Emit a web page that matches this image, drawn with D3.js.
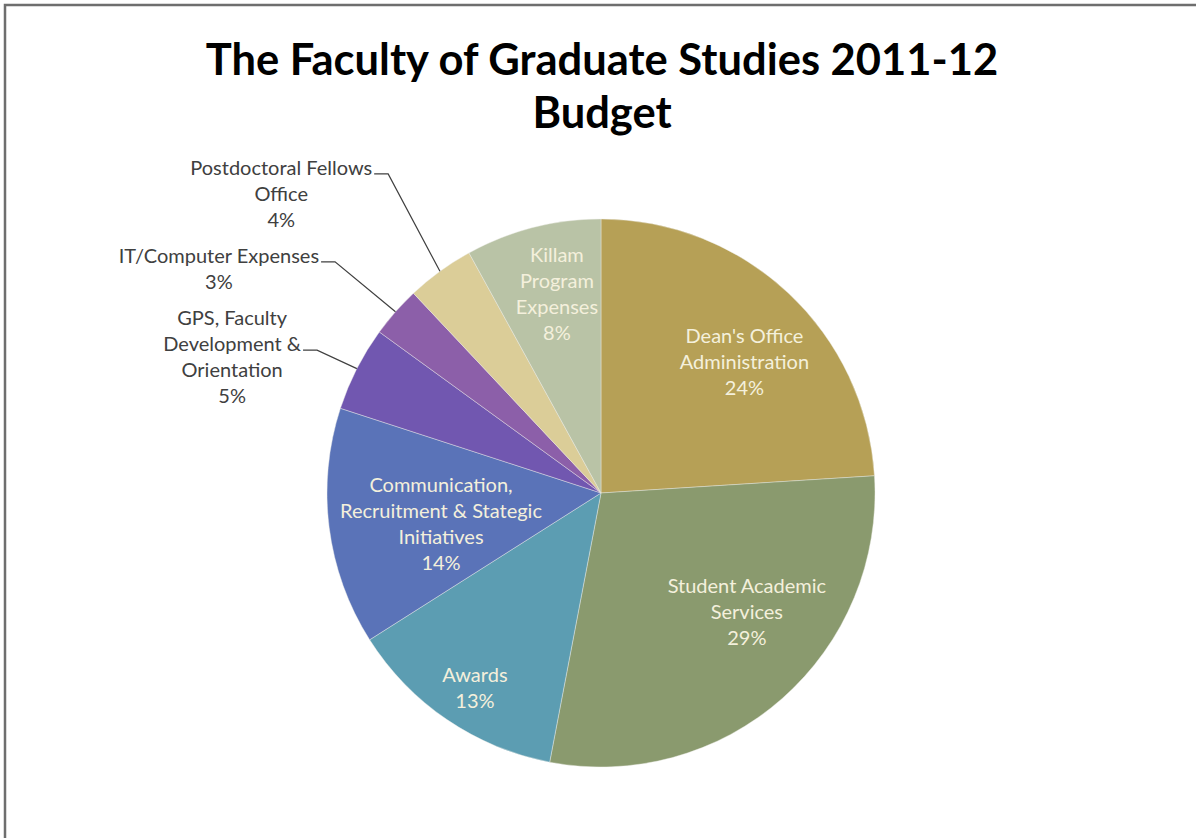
<!DOCTYPE html>
<html>
<head>
<meta charset="utf-8">
<script src="https://cdn.jsdelivr.net/npm/d3@7/dist/d3.min.js"></script>
<style>
  html, body { margin: 0; padding: 0; background: #ffffff; }
  svg { display: block; }
</style>
</head>
<body>
<svg id="chart" width="1196" height="838"></svg>
<script>
// Budget categories, in clockwise order from 12 o'clock
const categories = [
  "Dean's Office Administration",
  "Student Academic Services",
  "Awards",
  "Communication, Recruitment & Stategic Initiatives",
  "GPS, Faculty Development & Orientation",
  "IT/Computer Expenses",
  "Postdoctoral Fellows Office",
  "Killam Program Expenses"
];

// Share of the budget, percent
const shares = [24, 29, 13, 14, 5, 3, 4, 8];

// How each category name is broken over lines in its label
const labelLines = [
  ["Dean's Office", "Administration"],
  ["Student Academic", "Services"],
  ["Awards"],
  ["Communication,", "Recruitment & Stategic", "Initiatives"],
  ["GPS, Faculty", "Development &", "Orientation"],
  ["IT/Computer Expenses"],
  ["Postdoctoral Fellows", "Office"],
  ["Killam", "Program", "Expenses"]
];

const sliceColors = [
  "#b6a056", "#8a9a6e", "#5c9db2", "#5a73b8",
  "#7157b0", "#8c5fa9", "#dbcd98", "#b9c3a6"
];

// Label placement, relative to each slice's mid-angle:
// r  = distance from the centre as a fraction of the radius,
// da = angular nudge in degrees.
// Outside labels hang off a leader line whose elbow sits at (r, da).
const labelPlacement = [
  { inside: true,  r: 0.71,  da: 4.3 },
  { inside: true,  r: 0.687, da: -9.4 },
  { inside: true,  r: 0.847, da: -1.3 },
  { inside: true,  r: 0.595, da: -3.9 },
  { inside: false, r: 1.16,  da: -0.3 },
  { inside: false, r: 1.286, da: -0.4 },
  { inside: false, r: 1.40,  da: 2.3 },
  { inside: true,  r: 0.744, da: 1.9 }
];

const W = 1196, H = 838;
const cx = 601, cy = 493, R = 274;
const bodyFont = "Lato, 'Open Sans', sans-serif";

const svg = d3.select("#chart");

// Frame: top and left rules
svg.append("path")
  .attr("d", `M5,${H} L5,5 L${W},5`)
  .attr("fill", "none")
  .attr("stroke", "#6e6e6e")
  .attr("stroke-width", 2.5);

// Title
const title = svg.append("text")
  .attr("text-anchor", "middle")
  .attr("font-family", "Lato, 'Open Sans', sans-serif")
  .attr("font-weight", "bold")
  .attr("font-size", 43.5)
  .attr("fill", "#000");
title.append("tspan").attr("x", 602).attr("y", 75).text("The Faculty of Graduate Studies 2011-12");
title.append("tspan").attr("x", 602).attr("y", 128).text("Budget");

const data = categories.map((c, i) => ({
  name: c, value: shares[i], lines: labelLines[i],
  color: sliceColors[i], place: labelPlacement[i]
}));

const pie = d3.pie().sort(null).value(d => d.value);
const arcs = pie(data);
const arc = d3.arc().innerRadius(0).outerRadius(R);

const g = svg.append("g").attr("transform", `translate(${cx},${cy})`);

g.selectAll("path.slice")
  .data(arcs)
  .join("path")
  .attr("class", "slice")
  .attr("d", arc)
  .attr("fill", d => d.data.color)
  .attr("stroke", "#eeeeea")
  .attr("stroke-width", 0.6)
  .attr("stroke-opacity", 0.7);

const lineH = 26;
const fontSize = 20;
const deg = Math.PI / 180;

function polar(angle, r) {
  return [r * Math.sin(angle), -r * Math.cos(angle)];
}

arcs.forEach(a => {
  const d = a.data;
  const mid = (a.startAngle + a.endAngle) / 2;
  const lines = d.lines.concat([`${d.value}%`]);
  const [px, py] = polar(mid + d.place.da * deg, R * d.place.r);

  if (d.place.inside) {
    const t = g.append("text")
      .attr("text-anchor", "middle")
      .attr("font-family", bodyFont)
      .attr("font-size", fontSize)
      .attr("fill", "#f4f0dc");
    const y0 = py - (lines.length - 1) * lineH / 2;
    lines.forEach((ln, k) => {
      t.append("tspan").attr("x", px).attr("y", y0 + k * lineH).attr("dy", "0.35em").text(ln);
    });
  } else {
    const [ax, ay] = polar(mid, R);
    const hx = px - 14;

    const t = g.append("text")
      .attr("text-anchor", "middle")
      .attr("font-family", bodyFont)
      .attr("font-size", fontSize)
      .attr("fill", "#404040");
    const spans = lines.map(ln => t.append("tspan").text(ln));
    const widths = spans.map(s => s.node().getComputedTextLength());
    const wi = widths.indexOf(d3.max(widths));
    const blockCx = hx - 2 - widths[wi] / 2;
    // the widest line meets the leader at its right end
    const yWide = py - 6;
    spans.forEach((s, k) => {
      s.attr("x", blockCx).attr("y", yWide + (k - wi) * lineH).attr("dy", "0.35em");
    });

    g.append("path")
      .attr("d", `M${ax},${ay} L${px},${py} L${hx},${py}`)
      .attr("fill", "none")
      .attr("stroke", "#404040")
      .attr("stroke-width", 1.2);
  }
});
</script>
</body>
</html>
